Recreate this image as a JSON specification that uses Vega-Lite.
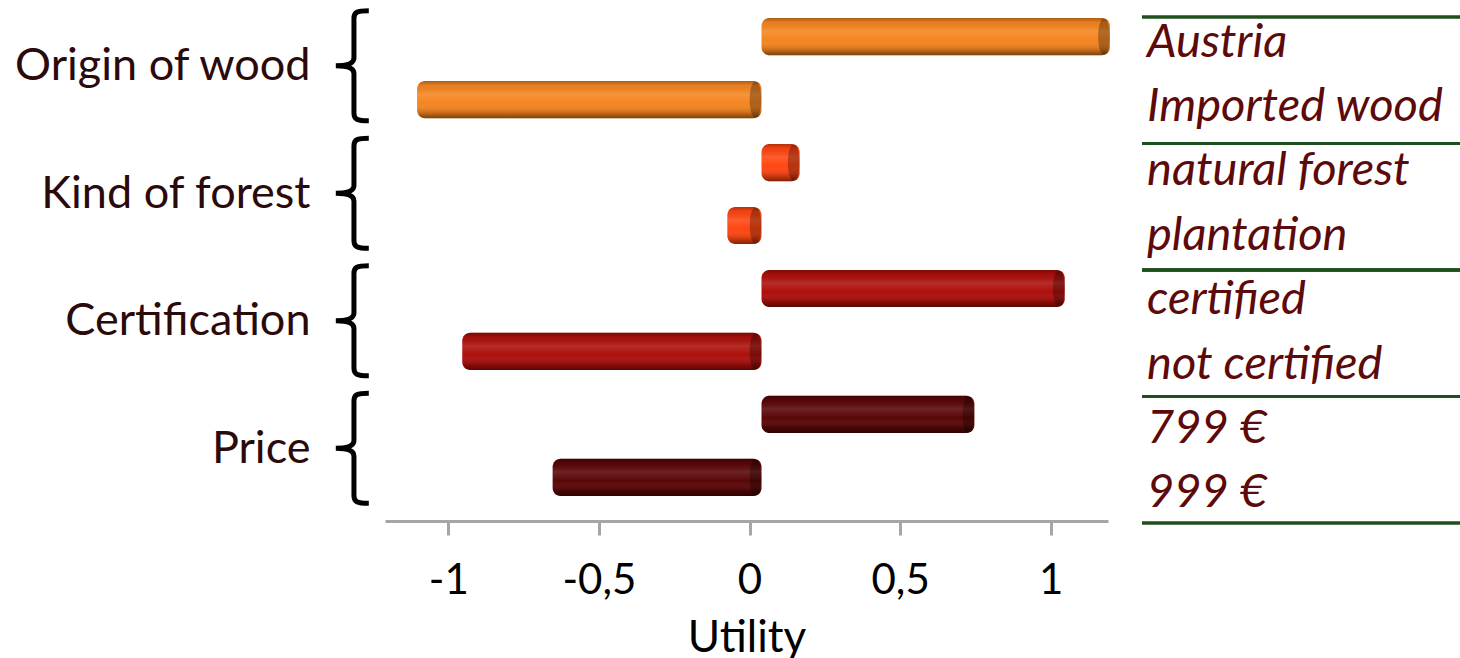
{
  "$schema": "https://vega.github.io/schema/vega-lite/v6.json",
  "padding": {"left": 12, "top": 0, "right": 0, "bottom": 0},
  "background": "white",
  "config": {"font": "Lato", "view": {"stroke": null}},
  "datasets": {
    "u": [
      {"group": "Origin of wood", "level": "Austria", "value": 1.15},
      {"group": "Origin of wood", "level": "Imported wood", "value": -1.15},
      {"group": "Kind of forest", "level": "natural forest", "value": 0.12},
      {"group": "Kind of forest", "level": "plantation", "value": -0.12},
      {"group": "Certification", "level": "certified", "value": 1.0},
      {"group": "Certification", "level": "not certified", "value": -1.0},
      {"group": "Price", "level": "799 €", "value": 0.7},
      {"group": "Price", "level": "999 €", "value": -0.7}
    ]
  },
  "spacing": 30,
  "hconcat": [
    {
      "spacing": 0,
      "hconcat": [
        {
          "data": {"name": "u"},
          "width": 50,
          "height": 510,
          "transform": [{"aggregate": [{"op": "count", "as": "n"}], "groupby": ["group"]}],
          "mark": {
            "type": "point",
            "shape": "M 0.16 -1 C -0.06 -1 -0.11 -0.97 -0.11 -0.86 L -0.11 -0.14 C -0.11 -0.05 -0.2 0 -0.44 0 C -0.2 0 -0.11 0.05 -0.11 0.14 L -0.11 0.86 C -0.11 0.97 -0.06 1 0.16 1",
            "filled": false,
            "stroke": "#000000",
            "strokeWidth": 5,
            "size": 12100,
            "opacity": 1
          },
          "encoding": {
            "y": {
              "field": "group",
              "type": "nominal",
              "sort": ["Origin of wood", "Kind of forest", "Certification", "Price"],
              "scale": {"paddingInner": 0, "paddingOuter": 0.025},
              "axis": {
                "title": null,
                "domain": false,
                "ticks": false,
                "labelFontSize": 45,
                "labelColor": "#2a0a0a",
                "labelPadding": 25,
                "labelLimit": 500
              }
            }
          }
        },
        {
          "data": {"name": "u"},
          "width": 723,
          "height": 510,
          "encoding": {
            "y": {
              "field": "level",
              "type": "nominal",
              "sort": null,
              "scale": {"paddingInner": 0, "paddingOuter": 0.05},
              "axis": null
            },
            "x": {
              "field": "value",
              "type": "quantitative",
              "scale": {"domain": [-1.21, 1.19], "nice": false, "zero": false},
              "axis": {
                "title": "Utility",
                "values": [-1, -0.5, 0, 0.5, 1],
                "labelExpr": "replace(replace(format(datum.value, '~g'), '.', ','), '−', '-')",
                "offset": 9,
                "grid": false,
                "domainColor": "#a6a6a6",
                "domainWidth": 3,
                "tickColor": "#a6a6a6",
                "tickWidth": 3,
                "tickSize": 14,
                "labelFontSize": 42,
                "labelColor": "#000000",
                "labelPadding": 25,
                "labelFlush": false,
                "titleFontSize": 44,
                "titleFontWeight": "normal",
                "titleColor": "#000000",
                "titlePadding": 15
              }
            }
          },
          "layer": [
            {
              "mark": {"type": "bar", "height": {"band": 0.59}, "cornerRadius": 8, "xOffset": 14, "x2Offset": 12},
              "encoding": {
                "x2": {"datum": 0},
                "color": {
                  "field": "group",
                  "type": "nominal",
                  "scale": {
                    "domain": ["Origin of wood", "Kind of forest", "Certification", "Price"],
                    "range": ["#f5851f", "#ff4612", "#ad0f0b", "#5a0606"]
                  },
                  "legend": null
                }
              }
            },
            {
              "mark": {
                "type": "bar",
                "height": {"band": 0.59},
                "cornerRadius": 8,
                "xOffset": 14,
                "x2Offset": 12,
                "fill": {
                  "gradient": "linear",
                  "x1": 0, "y1": 0, "x2": 0, "y2": 1,
                  "stops": [
                    {"offset": 0, "color": "rgba(0,0,0,0.3)"},
                    {"offset": 0.12, "color": "rgba(0,0,0,0.05)"},
                    {"offset": 0.35, "color": "rgba(255,255,255,0.12)"},
                    {"offset": 0.6, "color": "rgba(255,255,255,0)"},
                    {"offset": 0.85, "color": "rgba(0,0,0,0.18)"},
                    {"offset": 1, "color": "rgba(0,0,0,0.5)"}
                  ]
                }
              },
              "encoding": {"x2": {"datum": 0}}
            },
            {
              "transform": [{"filter": "datum.value > 0"}],
              "mark": {
                "type": "point",
                "shape": "M 0 -1 C 0.43 -1 0.43 1 0 1 C -0.43 1 -0.43 -1 0 -1 Z",
                "size": 1300,
                "filled": true,
                "fill": "#000000",
                "opacity": 0.28,
                "strokeWidth": 0,
                "xOffset": 8
              },
              "encoding": {}
            },
            {
              "transform": [{"filter": "datum.value < 0"}],
              "mark": {
                "type": "point",
                "shape": "M 0 -1 C 0.43 -1 0.43 1 0 1 C -0.43 1 -0.43 -1 0 -1 Z",
                "size": 1300,
                "filled": true,
                "fill": "#000000",
                "opacity": 0.28,
                "strokeWidth": 0,
                "xOffset": 6
              },
              "encoding": {"x": {"datum": 0, "type": "quantitative"}}
            }
          ]
        }
      ]
    },
    {
      "data": {"name": "u"},
      "width": 320,
      "height": 536,
      "layer": [
        {
          "mark": {"type": "rule", "color": "#1f4f1f", "strokeWidth": 3},
          "encoding": {
            "y": {
              "field": "group",
              "type": "nominal",
              "sort": ["Origin of wood", "Kind of forest", "Certification", "Price"],
              "bandPosition": 0,
              "scale": {"paddingInner": 0, "paddingOuter": 0.1186},
              "axis": null
            }
          }
        },
        {
          "mark": {"type": "rule", "color": "#1f4f1f", "strokeWidth": 3},
          "encoding": {
            "y": {
              "field": "group",
              "type": "nominal",
              "sort": ["Origin of wood", "Kind of forest", "Certification", "Price"],
              "bandPosition": 1,
              "scale": {"paddingInner": 0, "paddingOuter": 0.1186},
              "axis": null
            }
          }
        },
        {
          "mark": {
            "type": "text",
            "align": "left",
            "baseline": "middle",
            "dx": 5,
            "dy": -2,
            "fontSize": 47,
            "fontStyle": "italic",
            "color": "#5c0a0a"
          },
          "encoding": {
            "y": {
              "field": "level",
              "type": "nominal",
              "sort": null,
              "scale": {"type": "point", "padding": 0.66},
              "axis": null
            },
            "x": {"datum": 0, "type": "quantitative", "scale": {"domain": [0, 1]}, "axis": null},
            "text": {"field": "level"}
          }
        }
      ],
      "resolve": {"scale": {"y": "independent"}}
    }
  ]
}
